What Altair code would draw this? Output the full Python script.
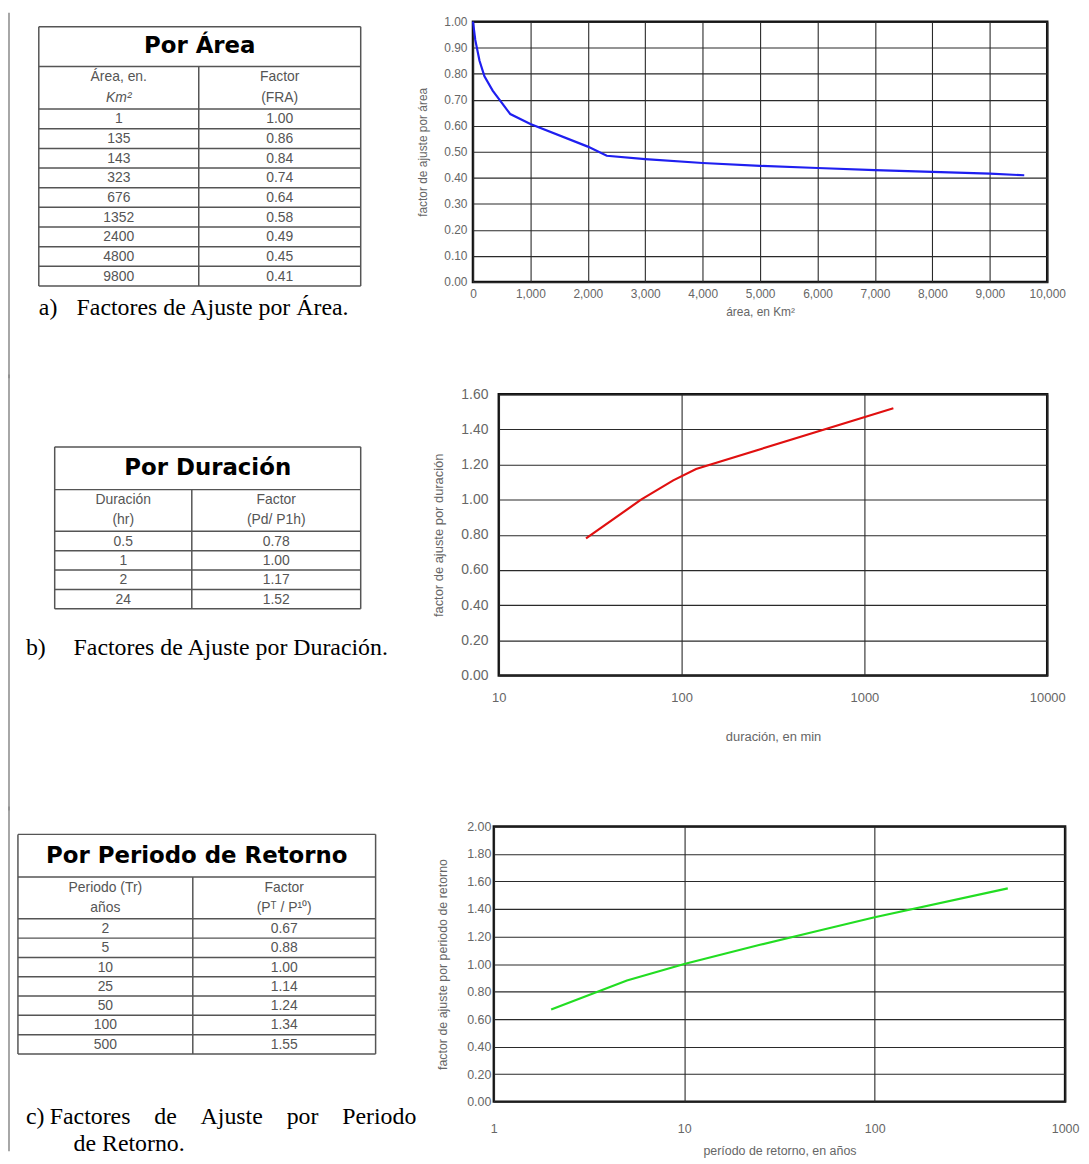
import altair as alt
import pandas as pd

# ---------------- table values ----------------
AREA_KM2 = ["1", "135", "143", "323", "676", "1352", "2400", "4800", "9800"]
AREA_FRA = ["1.00", "0.86", "0.84", "0.74", "0.64", "0.58", "0.49", "0.45", "0.41"]
DUR_HR = ["0.5", "1", "2", "24"]
DUR_FACTOR = ["0.78", "1.00", "1.17", "1.52"]
TR_YEARS = ["2", "5", "10", "25", "50", "100", "500"]
TR_FACTOR = ["0.67", "0.88", "1.00", "1.14", "1.24", "1.34", "1.55"]

# ---------------- curves ----------------
AREA_X = [0, 40, 114, 200, 343, 650, 1000, 2000, 2330, 3000, 4000, 5000, 6000, 7000, 8000, 9000, 9600]
AREA_Y = [1.00, 0.93, 0.85, 0.79, 0.735, 0.645, 0.607, 0.52, 0.485, 0.472, 0.457, 0.446, 0.438, 0.43, 0.423, 0.416, 0.41]
DUR_MIN = [30, 60, 90, 120, 1440]
DUR_F = [0.78, 1.00, 1.11, 1.175, 1.52]
TR_X = [2, 5, 10, 25, 50, 100, 500]
TR_Y = [0.67, 0.88, 1.00, 1.14, 1.24, 1.34, 1.55]

SANS = "Liberation Sans"
SERIF = "Liberation Serif"
NBSP4 = "\u00a0" * 4


def table_parts(x0, x1, xdiv, y_top, y_hdr, y_col, row_h, left_vals, right_vals):
    n = len(left_vals)
    y_bot = y_col + row_h * n
    hl = [y_top, y_hdr, y_col] + [y_col + row_h * (i + 1) for i in range(n)]
    rules = [dict(x=x0, x2=x1, y=y, y2=y) for y in hl]
    rules += [dict(x=x0, x2=x0, y=y_top, y2=y_bot),
              dict(x=x1, x2=x1, y=y_top, y2=y_bot),
              dict(x=xdiv, x2=xdiv, y=y_hdr, y2=y_bot)]
    cl = (x0 + xdiv) / 2
    cr = (xdiv + x1) / 2
    cells = []
    for i, (a, b) in enumerate(zip(left_vals, right_vals)):
        yc = y_col + row_h * (i + 0.5) + 0.5
        cells.append(dict(x=cl, y=yc, t=a))
        cells.append(dict(x=cr, y=yc, t=b))
    geo = dict(cx=(x0 + x1) / 2, hy=(y_top + y_hdr) / 2,
               l1=y_hdr + 0.25 * (y_col - y_hdr), l2=y_hdr + 0.74 * (y_col - y_hdr),
               cl=cl, cr=cr)
    return rules, cells, geo


def panel(W, H, frames, rules, cells, bold, italic, captions):
    xs = alt.Scale(domain=[0, W], nice=False, zero=False)
    ys = alt.Scale(domain=[0, H], nice=False, zero=False, reverse=True)
    X = alt.X("x:Q", scale=xs, axis=None)
    Y = alt.Y("y:Q", scale=ys, axis=None)
    frame = alt.Chart(pd.DataFrame(frames)).mark_rule(
        color="#8a8a8a", strokeWidth=1.5).encode(x=X, x2="x2:Q", y=Y, y2="y2:Q")
    lines = alt.Chart(pd.DataFrame(rules)).mark_rule(
        color="#555555", strokeWidth=1.5).encode(x=X, x2="x2:Q", y=Y, y2="y2:Q")
    t_cells = alt.Chart(pd.DataFrame(cells)).mark_text(
        font=SANS, fontSize=14, color="#555555", align="center", baseline="middle").encode(x=X, y=Y, text="t:N")
    t_bold = alt.Chart(pd.DataFrame(bold)).mark_text(
        font="DejaVu Sans", fontWeight="bold", fontSize=23, color="#000000",
        align="center", baseline="middle").encode(x=X, y=Y, text="t:N")
    layers = [frame, lines, t_cells, t_bold]
    if italic:
        layers.append(alt.Chart(pd.DataFrame(italic)).mark_text(
            font=SANS, fontSize=14, fontStyle="italic", color="#555555",
            align="center", baseline="middle").encode(x=X, y=Y, text="t:N"))
    layers.append(alt.Chart(pd.DataFrame(captions)).mark_text(
        font=SERIF, fontSize=24, color="#000000", align="left",
        baseline="alphabetic").encode(x=X, y=Y, text="t:N"))
    return alt.layer(*layers).properties(width=W, height=H, view=alt.ViewBackground(stroke=None))


# ---------------- left panels ----------------
# a
W1, H1 = 408, 347
r, c, g = table_parts(30, 354, 191, 5, 45, 88, 19.78, AREA_KM2, AREA_FRA)
c += [dict(x=g["cl"], y=g["l1"], t="Área, en."), dict(x=g["cr"], y=g["l1"], t="Factor"),
      dict(x=g["cr"], y=g["l2"], t="(FRA)")]
panel_a = panel(W1, H1, [dict(x=0, x2=0, y=-9, y2=H1 + 12)], r, c,
                [dict(x=g["cx"], y=g["hy"], t="Por Área")],
                [dict(x=g["cl"], y=g["l2"], t="Km²")],
                [dict(x=30, y=295, t="a)"), dict(x=68, y=295, t="Factores de Ajuste por Área.")])

# b
W2, H2 = 424, 407
r, c, g = table_parts(46, 354, 184, 53, 96, 138, 19.5, DUR_HR, DUR_FACTOR)
c += [dict(x=g["cl"], y=g["l1"], t="Duración"), dict(x=g["cl"], y=g["l2"], t="(hr)"),
      dict(x=g["cr"], y=g["l1"], t="Factor"), dict(x=g["cr"], y=g["l2"], t="(Pd/ P1h)")]
panel_b = panel(W2, H2, [dict(x=0, x2=0, y=-20, y2=H2 + 12)], r, c,
                [dict(x=g["cx"], y=g["hy"], t="Por Duración")], [],
                [dict(x=17, y=262, t="b)"), dict(x=65, y=262, t="Factores de Ajuste por Duración.")])

# c
W3, H3 = 428, 327
r, c, g = table_parts(9, 369, 185, 8, 51, 93, 19.43, TR_YEARS, TR_FACTOR)
c += [dict(x=g["cl"], y=g["l1"], t="Periodo (Tr)"), dict(x=g["cl"], y=g["l2"], t="años"),
      dict(x=g["cr"], y=g["l1"], t="Factor"), dict(x=g["cr"], y=g["l2"], t="(Pᵀ / P¹⁰)")]
panel_c = panel(W3, H3, [dict(x=0, x2=0, y=-20, y2=H3)], r, c,
                [dict(x=g["cx"], y=g["hy"], t="Por Periodo de Retorno")], [],
                [dict(x=17, y=300, t="c)"),
                 dict(x=41, y=300, t=NBSP4.join(["Factores", "de", "Ajuste", "por", "Periodo"])),
                 dict(x=65, y=327, t="de Retorno.")])


# ---------------- charts ----------------
def axis(title, values, fmt, lfs, lpad, tpad, tfs, extent=None):
    kw = dict(title=title, values=values, format=fmt, grid=True, gridColor="#2a2a2a", gridWidth=1.1,
              domain=False, ticks=False, labelFont=SANS, labelFontSize=lfs, labelColor="#666666",
              labelPadding=lpad, labelFlush=False, labelOverlap=False, titleFont=SANS,
              titleFontSize=tfs, titleColor="#666666", titleFontWeight="normal", titlePadding=tpad)
    if extent is not None:
        kw.update(minExtent=extent, maxExtent=extent)
    return alt.Axis(**kw)


VIEW = alt.ViewBackground(stroke="#111111", strokeWidth=2.5, fill="white")

chart_a = alt.Chart(pd.DataFrame({"x": AREA_X, "y": AREA_Y})).mark_line(
    color="#1f1ff0", strokeWidth=2.2).encode(
    x=alt.X("x:Q", scale=alt.Scale(domain=[0, 10000], nice=False),
            axis=axis("área, en Km²", list(range(0, 10001, 1000)), ",d", 12, 7, 7, 12)),
    y=alt.Y("y:Q", scale=alt.Scale(domain=[0, 1], nice=False),
            axis=axis("factor de ajuste por área", [i / 10 for i in range(11)], ".2f", 12, 6, 14, 12, 30)),
).properties(width=578, height=262, view=VIEW)

chart_b = alt.Chart(pd.DataFrame({"x": DUR_MIN, "y": DUR_F})).mark_line(
    color="#e01010", strokeWidth=2.2).encode(
    x=alt.X("x:Q", scale=alt.Scale(type="log", domain=[10, 10000], nice=False),
            axis=axis("duración, en min", [10, 100, 1000, 10000], "d", 13, 16, 27, 13)),
    y=alt.Y("y:Q", scale=alt.Scale(domain=[0, 1.6], nice=False),
            axis=axis("factor de ajuste por duración", [i / 5 for i in range(9)], ".2f", 14, 11, 16, 13, 38)),
).properties(width=552, height=283, view=VIEW)

chart_c = alt.Chart(pd.DataFrame({"x": TR_X, "y": TR_Y})).mark_line(
    color="#22dd22", strokeWidth=2.2).encode(
    x=alt.X("x:Q", scale=alt.Scale(type="log", domain=[1, 1000], nice=False),
            axis=axis("período de retorno, en años", [1, 10, 100, 1000], "d", 12.5, 21, 10, 12.5)),
    y=alt.Y("y:Q", scale=alt.Scale(domain=[0, 2], nice=False),
            axis=axis("factor de ajuste por periodo de retorno", [i / 5 for i in range(11)], ".2f",
                      12.5, 3, 18, 12.5, 27)),
).properties(width=575, height=277, view=VIEW)

row1 = alt.hconcat(panel_a, chart_a, spacing=0)
row2 = alt.hconcat(panel_b, chart_b, spacing=0)
row3 = alt.hconcat(panel_c, chart_c, spacing=0)

chart = alt.vconcat(row1, row2, row3, spacing=-6).properties(padding=0).configure_view(
    stroke=None).configure(background="white")

chart.save("out.html", embed_options={"renderer": "svg", "actions": False})
